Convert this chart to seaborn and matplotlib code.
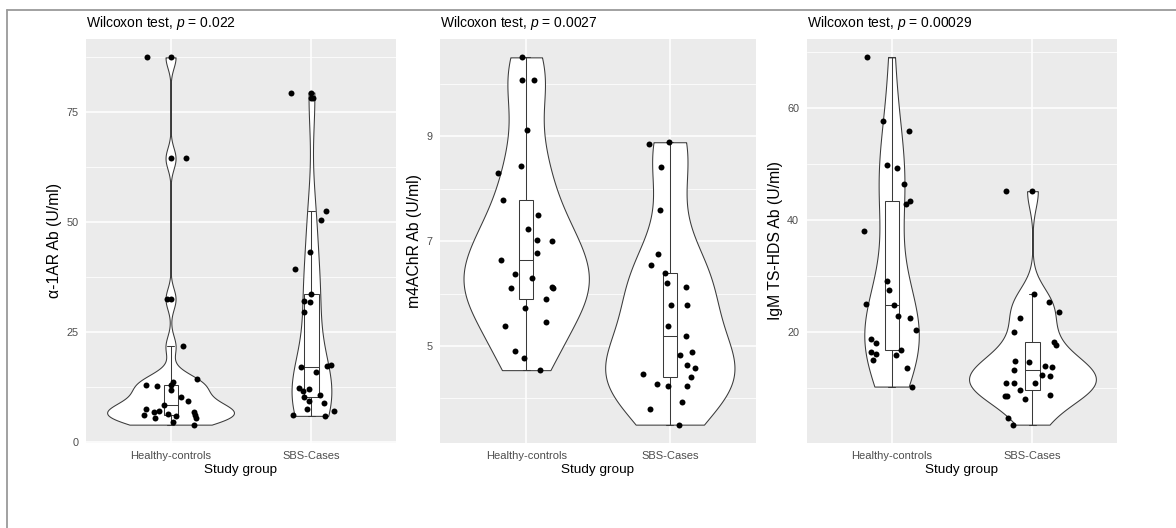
import numpy as np
import pandas as pd
import matplotlib
matplotlib.use("Agg")
import matplotlib.pyplot as plt
import seaborn as sns
from matplotlib.lines import Line2D

############################################################
# DATA
############################################################
groups = ["Healthy-controls", "SBS-Cases"]

a1ar_healthy = [87.5, 64.5, 32.5, 21.7, 14.3, 13.5, 13.0, 12.9, 12.8, 11.8, 10.1, 9.2, 8.4,
                7.4, 7.1, 6.8, 6.7, 6.4, 6.2, 6.1, 5.8, 5.5, 5.5, 4.4, 3.9]
a1ar_sbs = [79.5, 78.2, 52.6, 50.4, 43.1, 39.4, 33.6, 32.1, 31.9, 29.5, 17.5, 17.3, 17.0,
            15.8, 12.3, 12.0, 11.5, 10.6, 10.2, 9.3, 8.9, 7.4, 7.1, 6.1, 5.9]

m4achr_healthy = [10.51, 10.08, 10.08, 9.13, 8.44, 8.31, 7.79, 7.51, 7.24, 7.03, 7.0, 6.77, 6.64,
                  6.38, 6.30, 6.10, 6.10, 6.12, 5.90, 5.73, 5.46, 5.39, 4.90, 4.78, 4.54]
m4achr_sbs = [8.89, 8.86, 8.42, 7.59, 6.75, 6.54, 6.40, 6.21, 6.12, 5.78, 5.78, 5.38, 5.19,
              4.89, 4.82, 4.63, 4.58, 4.47, 4.40, 4.28, 4.24, 4.23, 3.93, 3.79, 3.50]

igm_healthy = [69.1, 57.8, 56.0, 49.8, 49.3, 46.5, 43.5, 42.9, 38.1, 29.1, 27.6, 25.0, 24.8,
               22.9, 22.6, 20.4, 18.8, 18.0, 16.9, 16.5, 16.1, 15.9, 15.0, 13.6, 10.3]
igm_sbs = [45.2, 26.8, 25.4, 23.6, 22.6, 20.0, 18.2, 17.7, 14.9, 14.75, 14.0, 13.75, 13.3,
           12.4, 12.2, 11.0, 11.0, 10.9, 9.7, 8.8, 8.7, 8.6, 8.0, 4.75, 3.5]

y_labels = ["\u03b1-1AR Ab (U/ml)", "m4AChR Ab (U/ml)", "IgM TS-HDS Ab (U/ml)"]
p_values = ["0.022", "0.0027", "0.00029"]
major_ticks = [[0, 25, 50, 75], [5, 7, 9], [20, 40, 60]]
minor_ticks = [[12.5, 37.5, 62.5, 87.5], [4, 6, 8, 10], [10, 30, 50, 70]]

panels = [(a1ar_healthy, a1ar_sbs), (m4achr_healthy, m4achr_sbs), (igm_healthy, igm_sbs)]

############################################################
# STYLE
############################################################
sns.set_theme(style="darkgrid")
plt.rcParams["font.family"] = ["Liberation Sans", "DejaVu Sans"]
plt.rcParams["mathtext.fontset"] = "custom"
plt.rcParams["mathtext.it"] = "Liberation Sans:italic"
plt.rcParams["mathtext.rm"] = "Liberation Sans"

np.random.seed(7)


def nrd0(kde):
    # R's default bandwidth (bw.nrd0), as a factor of the sample sd
    d = kde.dataset[0]
    sd = d.std(ddof=1)
    iqr = np.subtract(*np.percentile(d, [75, 25]))
    return 0.9 * min(sd, iqr / 1.34) * len(d) ** -0.2 / sd


W, H = 1176, 528
fig = plt.figure(figsize=(W / 100, H / 100), dpi=100)
fig.patch.set_facecolor("white")

# axes boxes in pixels: left, right
boxes = [(86, 396), (440, 756), (807, 1117)]
top, bottom = 39, 443
dot = 4.3

############################################################
# PANELS
############################################################
for i, (healthy, sbs) in enumerate(panels):
    left, right = boxes[i]
    ax = fig.add_axes([left / W, 1 - bottom / H, (right - left) / W, (bottom - top) / H])

    df = pd.DataFrame({
        "group": [groups[0]] * len(healthy) + [groups[1]] * len(sbs),
        "value": healthy + sbs,
    })

    sns.violinplot(data=df, x="group", y="value", order=groups, ax=ax,
                   cut=0, inner=None, density_norm="area", common_norm=True,
                   width=0.9, bw_method=nrd0, gridsize=512,
                   color="white", linecolor="#3a3a3a", linewidth=0.75, saturation=1)

    sns.boxplot(data=df, x="group", y="value", order=groups, ax=ax,
                width=0.1, whis=1.5, color="white", linecolor="#3a3a3a",
                linewidth=0.75, saturation=1,
                flierprops=dict(marker="o", markersize=dot, markeredgewidth=0,
                                markerfacecolor="black", markeredgecolor="black"))

    sns.stripplot(data=df, x="group", y="value", order=groups, ax=ax,
                  jitter=0.2, color="black", size=dot, linewidth=0, zorder=3)

    vals = np.array(healthy + sbs)
    span = vals.max() - vals.min()
    ax.set_ylim(vals.min() - 0.05 * span, vals.max() + 0.05 * span)
    ax.set_xlim(-0.6, 1.6)

    ax.set_yticks(major_ticks[i])
    ax.set_yticks(minor_ticks[i], minor=True)

    ax.set_facecolor("#EBEBEB")
    ax.set_axisbelow(True)
    ax.grid(which="major", color="white", linewidth=1.1)
    ax.grid(which="minor", axis="y", color="white", linewidth=0.55)
    for s in ax.spines.values():
        s.set_visible(False)

    ax.tick_params(which="major", length=3.6, width=0.8, color="#333333",
                   labelcolor="#4D4D4D", pad=2)
    ax.tick_params(axis="x", labelsize=8)
    ax.tick_params(axis="y", labelsize=7.8)
    ax.tick_params(which="minor", length=0)

    ax.set_xlabel("Study group", fontsize=9.7, color="black", labelpad=2)
    ax.set_ylabel(y_labels[i], fontsize=11.3, color="black", labelpad=3)
    ax.set_title(f"Wilcoxon test, $p$ = {p_values[i]}", loc="left",
                 fontsize=10, color="black", pad=9)

############################################################
# OUTER FRAME
############################################################
frame_col = "#9a9a9a"
fig.add_artist(Line2D([7 / W, 7 / W], [0, 1 - 10 / H], color=frame_col, linewidth=1.3))
fig.add_artist(Line2D([7 / W, 1], [1 - 10 / H, 1 - 10 / H], color=frame_col, linewidth=1.3))

fig.savefig("out.png", dpi=100)
